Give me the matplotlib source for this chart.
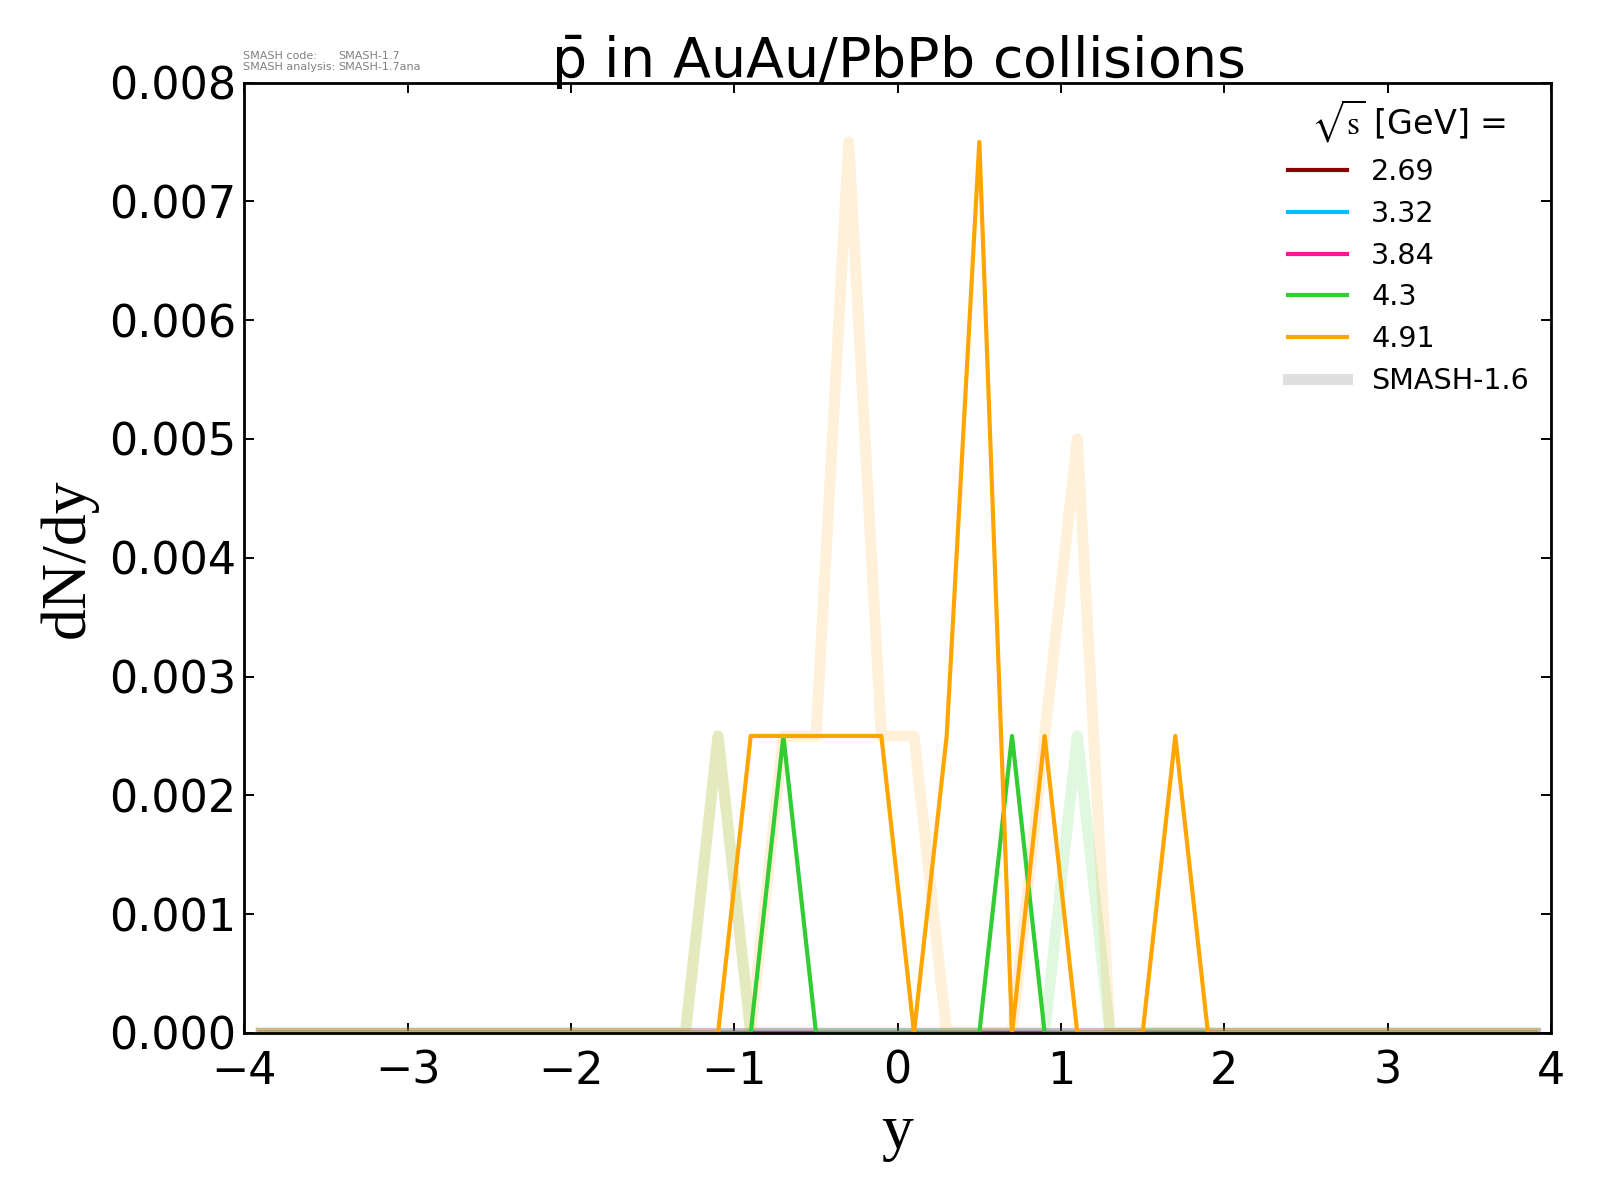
import matplotlib
matplotlib.use("Agg")
import matplotlib.pyplot as plt
from matplotlib.lines import Line2D
from matplotlib.ticker import FormatStrFormatter

# rapidity bin centres
y_bins = [-3.9, -3.7, -3.5, -3.3, -3.1, -2.9, -2.7, -2.5, -2.3, -2.1,
          -1.9, -1.7, -1.5, -1.3, -1.1, -0.9, -0.7, -0.5, -0.3, -0.1,
          0.1, 0.3, 0.5, 0.7, 0.9, 1.1, 1.3, 1.5, 1.7, 1.9,
          2.1, 2.3, 2.5, 2.7, 2.9, 3.1, 3.3, 3.5, 3.7, 3.9]

energies = ["2.69", "3.32", "3.84", "4.3", "4.91"]
colors = ["darkred", "deepskyblue", "deeppink", "limegreen", "orange"]

zeros = [0.0] * 40

# SMASH-1.7 dN/dy
new_269 = list(zeros)
new_332 = list(zeros)
new_384 = list(zeros)
new_430 = [0, 0, 0, 0, 0, 0, 0, 0, 0, 0,
           0, 0, 0, 0, 0, 0, 0.0025, 0, 0, 0,
           0, 0, 0, 0.0025, 0, 0, 0, 0, 0, 0,
           0, 0, 0, 0, 0, 0, 0, 0, 0, 0]
new_491 = [0, 0, 0, 0, 0, 0, 0, 0, 0, 0,
           0, 0, 0, 0, 0, 0.0025, 0.0025, 0.0025, 0.0025, 0.0025,
           0, 0.0025, 0.0075, 0, 0.0025, 0, 0, 0, 0.0025, 0,
           0, 0, 0, 0, 0, 0, 0, 0, 0, 0]

# SMASH-1.6 dN/dy (reference)
old_269 = list(zeros)
old_332 = list(zeros)
old_384 = list(zeros)
old_430 = [0, 0, 0, 0, 0, 0, 0, 0, 0, 0,
           0, 0, 0, 0, 0.0025, 0, 0, 0, 0, 0,
           0, 0, 0, 0, 0, 0.0025, 0, 0, 0, 0,
           0, 0, 0, 0, 0, 0, 0, 0, 0, 0]
old_491 = [0, 0, 0, 0, 0, 0, 0, 0, 0, 0,
           0, 0, 0, 0, 0.0025, 0, 0.0025, 0.0025, 0.0075, 0.0025,
           0.0025, 0, 0, 0, 0.0025, 0.005, 0, 0, 0, 0,
           0, 0, 0, 0, 0, 0, 0, 0, 0, 0]

new_data = [new_269, new_332, new_384, new_430, new_491]
old_data = [old_269, old_332, old_384, old_430, old_491]

plt.rcParams["mathtext.fontset"] = "stix"

fig = plt.figure(figsize=(8, 6), dpi=200)
ax = fig.add_axes([0.1528, 0.1392, 0.8165, 0.792])

# old version first, faded and thick
for vals, c in zip(old_data, colors):
    ax.plot(y_bins, vals, color=c, alpha=0.15, lw=4)

for vals, c, e in zip(new_data, colors, energies):
    ax.plot(y_bins, vals, color=c, lw=1.5, label=e)

ax.set_xlim(-4, 4)
ax.set_ylim(0, 0.008)
ax.yaxis.set_major_formatter(FormatStrFormatter("%.3f"))
ax.tick_params(direction="in", top=True, right=True, length=3.5, width=0.7,
               labelsize=16)
ax.tick_params(axis="x", pad=6)
ax.tick_params(axis="y", pad=3)
for s in ax.spines.values():
    s.set_linewidth(1.0)

ax.set_xlabel("y", family="Liberation Serif", fontsize=23)
ax.set_ylabel("dN/dy", family="Liberation Serif", fontsize=23)
ax.set_title(r"$\mathregular{\bar{p}}$ in AuAu/PbPb collisions", fontsize=20, pad=1.5)

handles, labels = ax.get_legend_handles_labels()
handles.append(Line2D([], [], color="grey", alpha=0.25, lw=4))
labels.append("SMASH-1.6")
ax.legend(handles, labels, title=r"$\sqrt{\mathrm{s}}$ [GeV] =", loc="upper right",
          bbox_to_anchor=(0.9946, 1.0),
          frameon=False, fontsize=10.3, title_fontsize=12, handlelength=2.05,
          handletextpad=0.85, labelspacing=0.48, borderaxespad=0.12)

fig.text(0.152, 0.9486, "SMASH code:\nSMASH analysis:", fontsize=4, color="grey",
         va="center", linespacing=1.15)
fig.text(0.2115, 0.9486, "SMASH-1.7\nSMASH-1.7ana", fontsize=4, color="grey",
         va="center", linespacing=1.15)

fig.savefig("out.png", dpi=200)
